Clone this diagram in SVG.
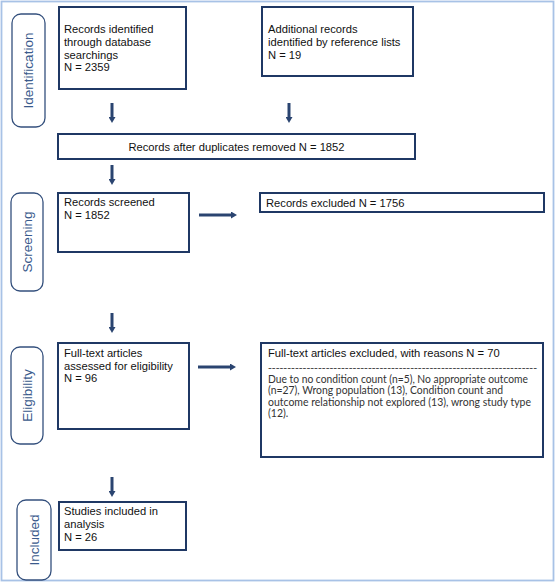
<svg xmlns="http://www.w3.org/2000/svg" width="555" height="582" viewBox="0 0 555 582">
<style>
.box{fill:#fff;stroke:#1f3864;stroke-width:2}
.pill{fill:#fff;stroke:#34507d;stroke-width:1.3}
.t{font-family:"Liberation Sans",Arial,sans-serif;font-size:11.2px;fill:#111}
.pt{font-family:"Liberation Sans",Arial,sans-serif;font-size:13.5px;fill:#3a5a8c;text-anchor:middle;dominant-baseline:central}
.b{font-family:Lato,"Open Sans",sans-serif;font-size:10.5px;fill:#333}
.arr{stroke:#2a4470;stroke-width:3;fill:none;marker-end:url(#ah)}
</style>
<defs>
<marker id="ah" markerUnits="userSpaceOnUse" markerWidth="7" markerHeight="7" refX="0" refY="3.5" orient="auto">
<path d="M0,0 L6,3.5 L0,7 z" fill="#2a4470"/>
</marker>
</defs>
<rect x="1.5" y="1.5" width="552" height="579" fill="#fff" stroke="#a8c2e6" stroke-width="1.8"/>

<g id="stage-identification"><rect class="pill" x="12" y="14" width="33" height="113" rx="9"/><text class="pt" transform="translate(28.5,70.5) rotate(-90)">Identification</text></g>
<g id="stage-screening"><rect class="pill" x="11" y="193" width="32" height="98" rx="9"/><text class="pt" transform="translate(27,242) rotate(-90)">Screening</text></g>
<g id="stage-eligibility"><rect class="pill" x="11" y="347" width="32" height="97" rx="9"/><text class="pt" transform="translate(27,395.5) rotate(-90)">Eligibility</text></g>
<g id="stage-included"><rect class="pill" x="17" y="500" width="34" height="80" rx="9"/><text class="pt" transform="translate(34,540) rotate(-90)">Included</text></g>

<g id="db-records"><rect class="box" x="59" y="7" width="127" height="82"/>
<text class="t" x="64" y="33">Records identified</text>
<text class="t" x="64" y="46">through database</text>
<text class="t" x="64" y="58.5">searchings</text>
<text class="t" x="64" y="71">N = 2359</text></g>

<g id="ref-records"><rect class="box" x="262" y="7" width="151" height="69"/>
<text class="t" x="268" y="33">Additional records</text>
<text class="t" x="268" y="46">identified by reference lists</text>
<text class="t" x="268" y="58.5">N = 19</text></g>

<g id="dedup"><rect class="box" x="58" y="134" width="357" height="25"/>
<text class="t" x="236.5" y="150.5" text-anchor="middle">Records after duplicates removed N = 1852</text></g>

<g id="screened"><rect class="box" x="58" y="193" width="131" height="59"/>
<text class="t" x="64" y="206">Records screened</text>
<text class="t" x="64" y="219">N = 1852</text></g>

<g id="excluded"><rect class="box" x="260" y="193" width="284" height="19"/>
<text class="t" x="266" y="206.5">Records excluded N = 1756</text></g>

<g id="fulltext"><rect class="box" x="58" y="343" width="131" height="86"/>
<text class="t" x="64" y="357">Full-text articles</text>
<text class="t" x="64" y="369.5">assessed for eligibility</text>
<text class="t" x="64" y="382">N = 96</text></g>

<g id="ft-excluded"><rect class="box" x="261" y="343" width="282" height="114"/>
<text class="t" x="268" y="357">Full-text articles excluded, with reasons N = 70</text>
<text class="t" x="268" y="371" style="font-size:9px" textLength="269" lengthAdjust="spacingAndGlyphs">----------------------------------------------------------------------</text>
<text class="b" x="268" y="382.5" textLength="260" lengthAdjust="spacingAndGlyphs">Due to no condition count (n=5), No appropriate outcome</text>
<text class="b" x="268" y="394" textLength="235" lengthAdjust="spacingAndGlyphs">(n=27), Wrong population (13), Condition count and</text>
<text class="b" x="268" y="405.5" textLength="263" lengthAdjust="spacingAndGlyphs">outcome relationship not explored (13), wrong study type</text>
<text class="b" x="268" y="417">(12).</text></g>

<g id="included"><rect class="box" x="59" y="502" width="127" height="48"/>
<text class="t" x="64" y="514.5">Studies included in</text>
<text class="t" x="64" y="527.5">analysis</text>
<text class="t" x="64" y="541">N = 26</text></g>

<g id="connectors">
<line class="arr" x1="112" y1="103" x2="112" y2="117"/>
<line class="arr" x1="289" y1="103" x2="289" y2="117"/>
<line class="arr" x1="112" y1="165" x2="112" y2="179"/>
<line class="arr" x1="199" y1="215" x2="231" y2="215"/>
<line class="arr" x1="112" y1="313" x2="112" y2="327"/>
<line class="arr" x1="198" y1="367" x2="230" y2="367"/>
<line class="arr" x1="112" y1="477" x2="112" y2="491"/>
</g>
</svg>
